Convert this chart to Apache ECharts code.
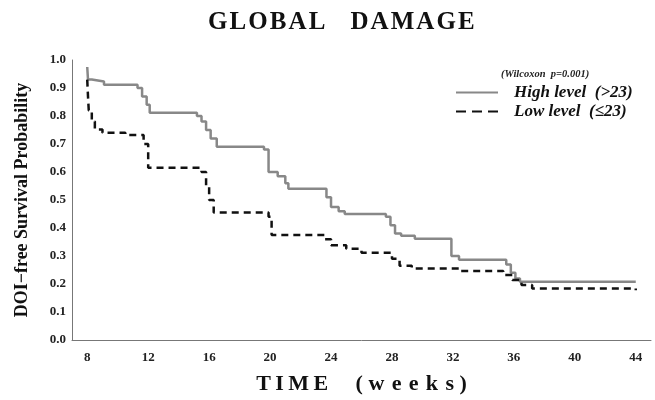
<!DOCTYPE html>
<html>
<head>
<meta charset="utf-8">
<script src="https://cdn.jsdelivr.net/npm/echarts@6/dist/echarts.min.js"></script>
<style>
  html, body { margin: 0; padding: 0; background: #fff; }
  #chart { width: 655px; height: 400px; }
</style>
</head>
<body>
<div id="chart"></div>
<script>
// Kaplan-Meier steps, [week, survival]
const highLevel = [
    [8, 0.975], [8.05, 0.93], [8.3, 0.923], [9.1, 0.912], [11.3, 0.90], [11.6, 0.87],
    [11.9, 0.84], [12.1, 0.812], [15.2, 0.80], [15.5, 0.78], [15.8, 0.75], [16.1, 0.72],
    [16.5, 0.69], [19.6, 0.68], [19.9, 0.60], [20.5, 0.585], [21.0, 0.56], [21.2, 0.54],
    [23.7, 0.51], [24.0, 0.475], [24.5, 0.46], [24.9, 0.45], [27.6, 0.44], [27.9, 0.41],
    [28.2, 0.38], [28.6, 0.372], [29.5, 0.362], [31.9, 0.30], [32.4, 0.287], [35.5, 0.27],
    [35.8, 0.24], [36.1, 0.22], [36.4, 0.208], [44, 0.208]
];
const lowLevel = [
    [8, 0.93], [8.05, 0.87], [8.1, 0.82], [8.3, 0.78], [8.5, 0.752], [9.0, 0.74],
    [10.5, 0.732], [11.7, 0.70], [12.0, 0.615], [15.5, 0.60], [15.8, 0.55], [16.0, 0.50],
    [16.3, 0.455], [19.9, 0.44], [20.1, 0.375], [23.6, 0.36], [24.0, 0.338], [25.0, 0.326],
    [26.0, 0.312], [28.0, 0.29], [28.5, 0.265], [29.3, 0.255], [32.4, 0.246], [35.3, 0.232],
    [35.9, 0.214], [36.5, 0.196], [37.2, 0.184], [44, 0.178]
];
const weekTicks = [8, 12, 16, 20, 24, 28, 32, 36, 40, 44];
const seriesNames = ['High level  (>23)', 'Low level  (\u226423)'];

const serif = '"Liberation Serif", "DejaVu Serif", serif';
const hair = '\u200A';
const spaced = (s, gap) => s.split('').join(gap);

const myChart = echarts.init(document.getElementById('chart'));

const option = {
    backgroundColor: '#fff',
    animation: false,
    title: [
        {
            text: spaced('GLOBAL', hair) + '    ' + spaced('DAMAGE', hair),
            left: 203,
            top: 5,
            textStyle: { fontFamily: serif, fontWeight: 'bold', fontSize: 25, color: '#111' }
        },
        {
            text: '(Wilcoxon  p=0.001)',
            left: 496,
            top: 64,
            textStyle: { fontFamily: serif, fontWeight: 'bold', fontStyle: 'italic', fontSize: 10.5, color: '#222' }
        }
    ],
    legend: {
        orient: 'vertical',
        left: 450,
        top: 79,
        itemWidth: 42,
        itemHeight: 10,
        itemGap: 2,
        itemStyle: { opacity: 0 },
        data: [
            { name: seriesNames[0] },
            { name: seriesNames[1], lineStyle: { type: [10, 6] } }
        ],
        textStyle: {
            fontFamily: serif, fontWeight: 'bold', fontStyle: 'italic', fontSize: 17,
            color: '#111', padding: [0, 0, 0, 11]
        }
    },
    grid: {
        left: 72,
        right: 4,
        top: 60,
        bottom: 57
    },
    xAxis: {
        type: 'value',
        min: 7,
        max: 45,
        name: spaced('TIME', '\u2009') + '     (' + ' ' + spaced('weeks', ' \u200A') + ' )',
        nameLocation: 'middle',
        nameGap: 33,
        nameTextStyle: { fontFamily: serif, fontWeight: 'bold', fontSize: 22, color: '#111' },
        axisLine: { lineStyle: { color: '#777', width: 1 } },
        axisTick: { show: false },
        splitLine: { show: false },
        axisLabel: {
            customValues: weekTicks,
            margin: 11,
            fontFamily: serif, fontWeight: 'bold', fontSize: 13, color: '#222'
        }
    },
    yAxis: {
        type: 'value',
        min: 0,
        max: 1,
        interval: 0.1,
        name: 'DOI\u2212free Survival Probability',
        nameLocation: 'middle',
        nameGap: 41,
        nameTextStyle: { fontFamily: serif, fontWeight: 'bold', fontSize: 18, color: '#111' },
        axisLine: { show: true, lineStyle: { color: '#777', width: 1 } },
        axisTick: { show: false },
        splitLine: { show: false },
        axisLabel: {
            margin: 6,
            formatter: (v) => v.toFixed(1),
            fontFamily: serif, fontWeight: 'bold', fontSize: 13, color: '#222'
        }
    },
    series: [
        {
            name: seriesNames[0],
            type: 'line',
            step: 'end',
            symbol: 'none',
            data: highLevel,
            lineStyle: { color: '#888', width: 2.5 },
            itemStyle: { color: '#888' }
        },
        {
            name: seriesNames[1],
            type: 'line',
            step: 'end',
            symbol: 'none',
            data: lowLevel,
            lineStyle: { color: '#111', width: 2.5, type: [7, 5] },
            itemStyle: { color: '#111' }
        }
    ]
};
myChart.setOption(option);
</script>
</body>
</html>
